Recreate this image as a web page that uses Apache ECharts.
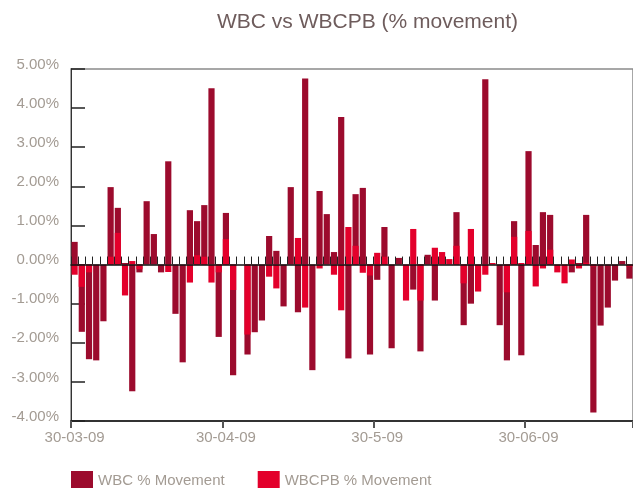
<!DOCTYPE html>
<html>
<head>
    <meta charset="utf-8">
    <script src="https://cdn.jsdelivr.net/npm/echarts@6/dist/echarts.min.js"></script>
</head>
<body style="margin:0">
<div id="main" style="width: 633px; height: 488px"></div>
<script type="text/javascript">

    // daily % movement, one value per trading day from 30-03-09
    var wbc = [0.58, -1.72, -2.42, -2.45, -1.45, 1.98, 1.45, 0.04, -3.24, -0.20,
        1.62, 0.78, -0.20, 2.64, -1.26, -2.50, 1.39, 1.11, 1.52, 4.51,
        -1.85, 1.32, -2.83, 0, -2.30, -1.73, -1.43, 0.73, 0.35, -1.07,
        1.98, -1.22, 4.76, -2.70, 1.88, 1.29, 0.32, 3.77, -2.40, 1.80,
        1.96, -2.30, -0.39, 0.96, -2.14, 0.17, 0, -0.64, -2.22, 0.25,
        -0.92, 0, 0, 1.34, -1.55, -1.00, 0, 4.74, 0, -1.55,
        -2.45, 1.11, -2.32, 2.90, 0.50, 1.34, 1.27, 0, 0, -0.20,
        0.04, 1.27, -3.78, -1.56, -1.10, -0.41, 0.09, -0.36];
    var wbcpb = [-0.26, -0.57, -0.20, 0, 0, 0.20, 0.81, -0.79, 0.09, -0.12,
        0, 0, 0, -0.19, 0, 0, -0.46, 0.24, 0.20, -0.46,
        -0.20, 0.65, -0.65, 0, -1.79, 0, 0, -0.31, -0.61, 0,
        0, 0.68, -1.10, 0, -0.10, 0, -0.26, -1.17, 0.96, 0.48,
        -0.21, -0.28, 0.30, 0.20, 0, 0, -0.92, 0.91, -0.92, 0,
        0.43, 0.32, 0.14, 0.48, -0.48, 0.91, -0.69, -0.26, 0.04, 0,
        -0.71, 0.71, 0.04, 0.86, -0.56, -0.10, 0.38, -0.20, -0.48, 0.13,
        -0.10, 0.05, -0.05, 0, 0, 0, 0, -0.05];
    var days = wbc.map(function (v, i) { return i; });
    var tickLabels = ['30-03-09', '30-04-09', '30-5-09', '30-06-09'];
    var tickDays = [0, 21, 42, 63];

    var labelColor = '#a39b93';
    var font = 'Liberation Sans';

    function isTickDay(index) {
        return tickDays.indexOf(index) >= 0;
    }

    var myChart = echarts.init(document.getElementById('main'));
    var option = {
        animation: false,
        title: {
            text: 'WBC vs WBCPB (% movement)',
            left: 212, top: 7,
            textStyle: {fontFamily: font, fontSize: 21, fontWeight: 'normal', color: '#6e5c5c'}
        },
        legend: {
            left: 66, top: 466,
            itemWidth: 22, itemHeight: 20, itemGap: 33,
            icon: 'rect',
            textStyle: {fontFamily: font, fontSize: 15, color: labelColor}
        },
        grid: {
            left: 71, right: -2.5, top: 69, bottom: 67,
            show: true, borderColor: '#8a8a8a', borderWidth: 1.5
        },
        xAxis: [{
            type: 'category', data: days, position: 'top',
            axisLine: {onZero: true, lineStyle: {color: '#111', width: 1.5}},
            axisTick: {show: true, interval: 0, length: 8, lineStyle: {color: '#222'}},
            axisLabel: {show: false},
            z: 10
        }, {
            type: 'category', data: days, position: 'bottom',
            axisLine: {onZero: false, lineStyle: {color: '#333', width: 2}},
            axisTick: {show: true, interval: isTickDay, length: 7, lineStyle: {color: '#555', width: 2}},
            axisLabel: {
                interval: isTickDay, margin: 9,
                fontFamily: font, fontSize: 15, color: labelColor,
                formatter: function (v) { return tickLabels[tickDays.indexOf(Number(v))]; }
            }
        }],
        yAxis: {
            type: 'value', min: -4, max: 5, interval: 1,
            axisLine: {show: true, lineStyle: {color: '#333'}},
            axisTick: {show: true, inside: true, length: 14, lineStyle: {color: '#222', width: 1.5}},
            splitLine: {show: false},
            axisLabel: {
                margin: 12,
                fontFamily: font, fontSize: 15, color: labelColor,
                formatter: function (v) { return '{v|' + v.toFixed(2) + '%}'; },
                rich: {v: {fontFamily: font, fontSize: 15, color: labelColor, padding: [0, 0, 9, 0]}}
            }
        },
        series: [{
            name: 'WBC % Movement', type: 'bar', data: wbc,
            itemStyle: {color: '#9c0b2d'},
            barGap: '-100%', barCategoryGap: '14%'
        }, {
            name: 'WBCPB % Movement', type: 'bar', data: wbcpb,
            itemStyle: {color: '#e3002b'},
            barGap: '-100%', barCategoryGap: '14%'
        }]
    };
    myChart.setOption(option);
</script>
</body>
</html>
